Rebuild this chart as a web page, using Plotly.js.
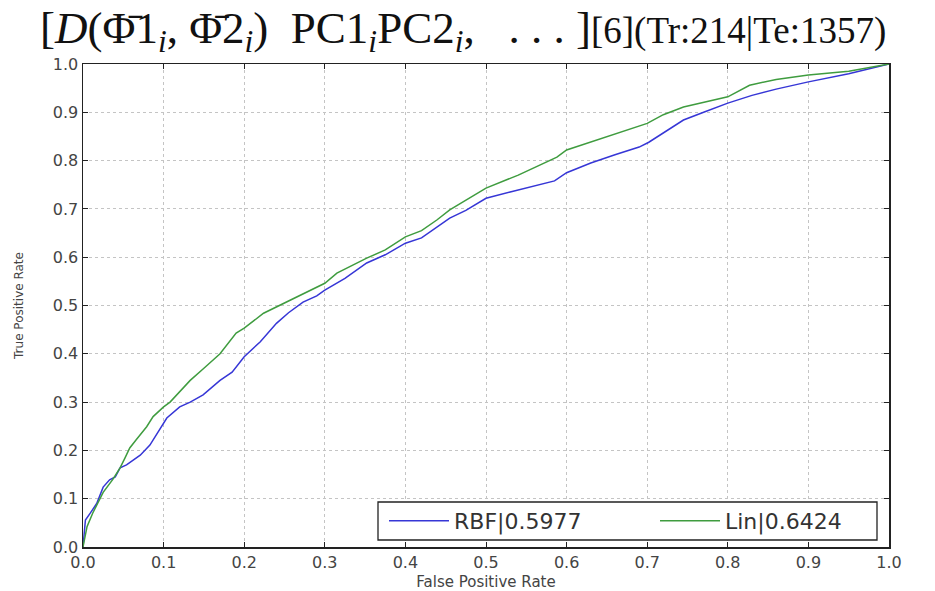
<!DOCTYPE html>
<html>
<head>
<meta charset="utf-8">
<script src="https://cdn.plot.ly/plotly-3.0.1.min.js"></script>
<style>html,body{margin:0;padding:0;background:#fff;}#chart{width:935px;height:591px;}</style>
</head>
<body>
<div id="chart"></div>
<script>
// RBF ROC curve (False Positive Rate, True Positive Rate)
const rbfFpr = [0, 0.003, 0.009, 0.017, 0.025, 0.033, 0.04, 0.046, 0.054, 0.062, 0.071, 0.083, 0.091, 0.104, 0.12, 0.133, 0.149, 0.17, 0.185, 0.2, 0.22, 0.24, 0.255, 0.273, 0.29, 0.3, 0.325, 0.352, 0.375, 0.4, 0.42, 0.439, 0.455, 0.475, 0.5, 0.53, 0.56, 0.585, 0.6, 0.63, 0.66, 0.69, 0.702, 0.72, 0.745, 0.77, 0.8, 0.83, 0.86, 0.9, 0.95, 1.0];
const rbfTpr = [0, 0.056, 0.07, 0.09, 0.124, 0.139, 0.145, 0.164, 0.17, 0.18, 0.19, 0.211, 0.232, 0.267, 0.29, 0.3, 0.315, 0.345, 0.362, 0.394, 0.425, 0.463, 0.485, 0.507, 0.52, 0.532, 0.556, 0.588, 0.605, 0.629, 0.64, 0.663, 0.681, 0.697, 0.722, 0.735, 0.748, 0.758, 0.775, 0.795, 0.812, 0.828, 0.838, 0.858, 0.884, 0.9, 0.919, 0.935, 0.948, 0.963, 0.98, 1.0];
// Linear ROC curve
const linFpr = [0, 0.005, 0.012, 0.025, 0.037, 0.046, 0.052, 0.058, 0.066, 0.079, 0.087, 0.1, 0.108, 0.12, 0.133, 0.15, 0.17, 0.19, 0.2, 0.224, 0.25, 0.273, 0.3, 0.315, 0.352, 0.375, 0.4, 0.42, 0.439, 0.455, 0.5, 0.54, 0.588, 0.6, 0.65, 0.7, 0.72, 0.745, 0.8, 0.827, 0.86, 0.9, 0.95, 1.0];
const linTpr = [0, 0.042, 0.07, 0.113, 0.14, 0.164, 0.184, 0.205, 0.222, 0.249, 0.27, 0.29, 0.3, 0.321, 0.345, 0.37, 0.4, 0.443, 0.453, 0.484, 0.505, 0.525, 0.546, 0.567, 0.598, 0.615, 0.642, 0.655, 0.677, 0.698, 0.743, 0.77, 0.807, 0.822, 0.85, 0.877, 0.895, 0.911, 0.932, 0.956, 0.968, 0.977, 0.985, 1.0];
const seriesNames = ['RBF|0.5977', 'Lin|0.6424'];
const tickVals = [0, 0.1, 0.2, 0.3, 0.4, 0.5, 0.6, 0.7, 0.8, 0.9, 1.0];

const traces = [
  {x: rbfFpr, y: rbfTpr, name: seriesNames[0], mode: 'lines', type: 'scatter',
   line: {color: '#3636d6', width: 1.5}, legend: 'legend'},
  {x: linFpr, y: linTpr, name: seriesNames[1], mode: 'lines', type: 'scatter',
   line: {color: '#3f9c3f', width: 1.5}, legend: 'legend2'}
];

const axisCommon = {
  range: [0, 1], tickvals: tickVals, tickformat: '.1f',
  showline: true, linecolor: '#222', linewidth: 1.5, mirror: 'allticks',
  ticks: 'inside', ticklen: 5, tickcolor: '#222', tickwidth: 1,
  showgrid: true, gridcolor: '#c4c4c4', griddash: 'dot', gridwidth: 1,
  zeroline: false, fixedrange: true,
  tickfont: {family: 'DejaVu Sans', size: 16, color: '#444'}
};

const legendCommon = {
  orientation: 'h', xanchor: 'left', y: (547-521)/483, yanchor: 'middle',
  borderwidth: 0, bgcolor: 'rgba(0,0,0,0)',
  font: {family: 'DejaVu Sans', size: 22, color: '#333'}, itemwidth: 60
};

const layout = {
  width: 935, height: 591,
  margin: {l: 83, r: 46, t: 64, b: 44, pad: 0},
  paper_bgcolor: '#fff', plot_bgcolor: '#fff',
  title: {
    text: '[<i>D</i>(Φ̄1<sub><i>i</i></sub>, Φ̄2<sub><i>i</i></sub>)&nbsp;&nbsp;PC1<sub><i>i</i></sub>PC2<sub><i>i</i></sub>,&nbsp;&nbsp;&nbsp;.&nbsp;.&nbsp;.&nbsp;]<span style="font-size:37px">[6](Tr:214|Te:1357)</span>',
    font: {family: 'Liberation Serif', size: 45, color: '#111'},
    xref: 'container', x: 40/935, xanchor: 'left',
    yref: 'container', y: 1 - 27/591, yanchor: 'middle'
  },
  xaxis: Object.assign({}, axisCommon, {
    title: {text: 'False Positive Rate', font: {family: 'DejaVu Sans', size: 15, color: '#444'}, standoff: 6}
  }),
  yaxis: Object.assign({}, axisCommon, {
    title: {text: 'True Positive Rate', font: {family: 'DejaVu Sans', size: 12, color: '#444'}, standoff: 26}
  }),
  showlegend: true,
  legend: Object.assign({}, legendCommon, {x: (384-83)/806}),
  legend2: Object.assign({}, legendCommon, {x: (655-83)/806}),
  shapes: [{
    type: 'rect', xref: 'paper', yref: 'paper', layer: 'above',
    x0: (378-83)/806, x1: (877-83)/806, y0: (547-540)/483, y1: (547-502)/483,
    line: {color: '#222', width: 1.3}, fillcolor: '#fff'
  }]
};

Plotly.newPlot('chart', traces, layout, {staticPlot: true, displayModeBar: false});
</script>
</body>
</html>
